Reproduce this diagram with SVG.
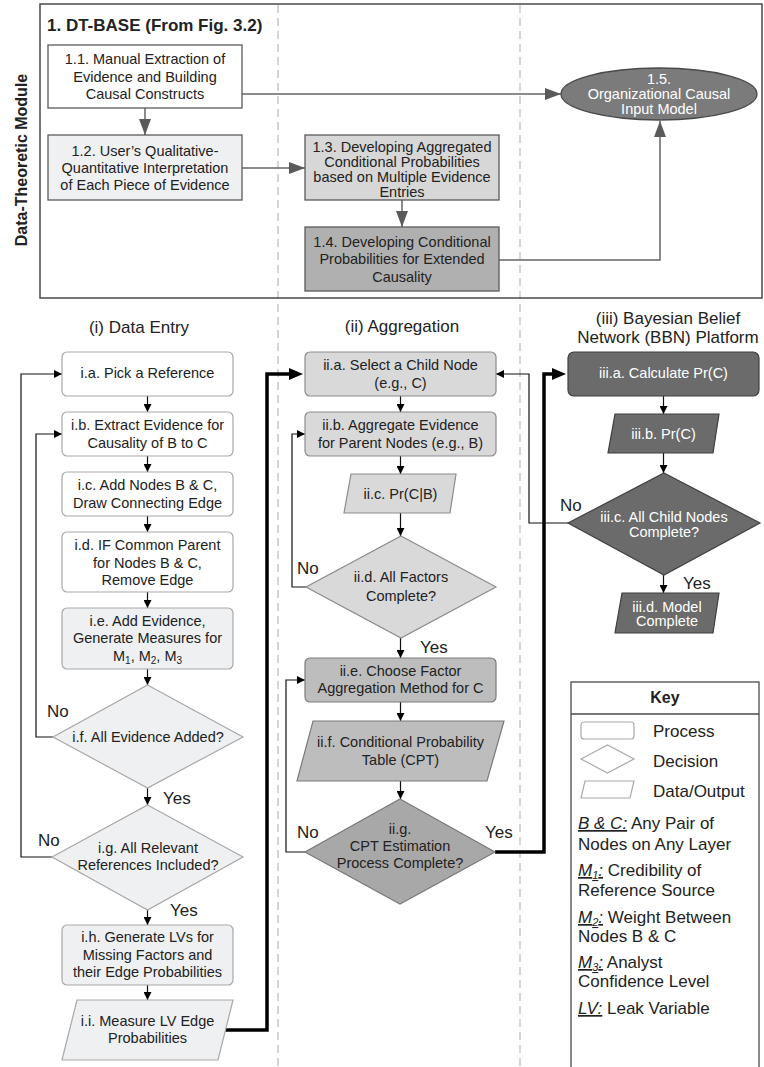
<svg xmlns="http://www.w3.org/2000/svg" width="764" height="1067" viewBox="0 0 764 1067">
  <defs>
    <style>
      text { font-family: "Liberation Sans", Arial, sans-serif; fill: #222; }
      .t { font-size: 14.5px; text-anchor: middle; }
      .w { fill: #ffffff; }
      .lbl { font-size: 17px; }
      .head { font-size: 17px; text-anchor: middle; }
      .key { font-size: 17px; }
      .u { text-decoration: underline; font-style: italic; }
      .top { stroke: #5a5a5a; stroke-width: 1.3; }
      .plain { fill: #ffffff; stroke: #a8a8a8; stroke-width: 1.2; }
      .pale { fill: #eef0f2; stroke: #a8a8a8; stroke-width: 1.2; }
      .g1 { fill: #d9d9d9; stroke: #8c8c8c; stroke-width: 1.2; }
      .g2 { fill: #bdbdbd; stroke: #7a7a7a; stroke-width: 1.2; }
      .g3 { fill: #a8a8a8; stroke: #7a7a7a; stroke-width: 1.2; }
      .dark { fill: #6b6b6b; stroke: #3f3f3f; stroke-width: 1.2; }
      .cg { fill: none; stroke: #666666; stroke-width: 1.5; }
      .cb { fill: none; stroke: #111111; stroke-width: 1.2; }
      .ck { fill: none; stroke: #000000; stroke-width: 3.5; stroke-linejoin: miter; }
      .dash { stroke: #c8c8c8; stroke-width: 1.5; stroke-dasharray: 8 5; }
    </style>
    <marker id="ahG" markerUnits="userSpaceOnUse" markerWidth="16" markerHeight="12" refX="16" refY="6" orient="auto">
      <path d="M0,0 L16,6 L0,12 z" fill="#5a5a5a"/>
    </marker>
    <marker id="ahS" markerUnits="userSpaceOnUse" markerWidth="8" markerHeight="8" refX="8" refY="4" orient="auto">
      <path d="M0,0 L8,4 L0,8 z" fill="#000"/>
    </marker>
    <marker id="ahK" markerUnits="userSpaceOnUse" markerWidth="14" markerHeight="12" refX="8" refY="6" orient="auto">
      <path d="M0,0 L14,6 L0,12 z" fill="#000"/>
    </marker>
  </defs>

  <rect width="764" height="1067" fill="#ffffff"/>

  <!-- lane separators -->
  <line class="dash" x1="278" y1="5" x2="278" y2="1067"/>
  <line class="dash" x1="520" y1="5" x2="520" y2="1067"/>

  <!-- module frame -->
  <rect x="40" y="4" width="722" height="294" fill="none" stroke="#4a4a4a" stroke-width="1.5"/>
  <text x="27" y="160" transform="rotate(-90 27 160)" font-size="16" font-weight="bold" text-anchor="middle">Data-Theoretic Module</text>
  <text x="47" y="31" font-size="17" font-weight="bold">1. DT-BASE (From Fig. 3.2)</text>

  <!-- column headings -->
  <text class="head" x="139" y="333">(i) Data Entry</text>
  <text class="head" x="402" y="332">(ii) Aggregation</text>
  <text class="head" x="668" y="324">(iii) Bayesian Belief</text>
  <text class="head" x="668" y="343">Network (BBN) Platform</text>

  <!-- connectors -->
  <g id="connectors">
    <!-- module -->
    <line class="cg" x1="145" y1="108" x2="145" y2="135" marker-end="url(#ahG)"/>
    <line class="cg" x1="242" y1="94" x2="561" y2="94" marker-end="url(#ahG)"/>
    <line class="cg" x1="242" y1="168" x2="305" y2="168" marker-end="url(#ahG)"/>
    <line class="cg" x1="402" y1="200" x2="402" y2="227" marker-end="url(#ahG)"/>
    <polyline class="cg" points="499,260 660,260 660,121" marker-end="url(#ahG)"/>

    <!-- data entry -->
    <line class="cb" x1="147.5" y1="396" x2="147.5" y2="412" marker-end="url(#ahS)"/>
    <line class="cb" x1="147.5" y1="456" x2="147.5" y2="472" marker-end="url(#ahS)"/>
    <line class="cb" x1="147.5" y1="516" x2="147.5" y2="532" marker-end="url(#ahS)"/>
    <line class="cb" x1="147.5" y1="592" x2="147.5" y2="608" marker-end="url(#ahS)"/>
    <line class="cb" x1="147.5" y1="669" x2="147.5" y2="685" marker-end="url(#ahS)"/>
    <line class="cb" x1="147.5" y1="788" x2="147.5" y2="805" marker-end="url(#ahS)"/>
    <line class="cb" x1="147.5" y1="910" x2="147.5" y2="925" marker-end="url(#ahS)"/>
    <line class="cb" x1="147.5" y1="985" x2="147.5" y2="1000" marker-end="url(#ahS)"/>
    <polyline class="cb" points="53,737 36,737 36,434 62,434" marker-end="url(#ahS)"/>
    <polyline class="cb" points="52,857 21,857 21,374 62,374" marker-end="url(#ahS)"/>
    <polyline class="ck" points="222,1030 267,1030 267,374 297,374" marker-end="url(#ahK)"/>

    <!-- aggregation -->
    <line class="cb" x1="400.5" y1="396" x2="400.5" y2="412" marker-end="url(#ahS)"/>
    <line class="cb" x1="400.5" y1="456" x2="400.5" y2="474" marker-end="url(#ahS)"/>
    <line class="cb" x1="400.5" y1="513" x2="400.5" y2="536" marker-end="url(#ahS)"/>
    <line class="cb" x1="400.5" y1="638" x2="400.5" y2="658" marker-end="url(#ahS)"/>
    <line class="cb" x1="400.5" y1="702" x2="400.5" y2="721" marker-end="url(#ahS)"/>
    <line class="cb" x1="400.5" y1="781" x2="400.5" y2="799" marker-end="url(#ahS)"/>
    <polyline class="cb" points="306,587 292,587 292,434 305,434" marker-end="url(#ahS)"/>
    <polyline class="cb" points="305,852 286,852 286,680 305,680" marker-end="url(#ahS)"/>
    <polyline class="ck" points="495,852 544,852 544,374 560,374" marker-end="url(#ahK)"/>

    <!-- BBN platform -->
    <line class="cb" x1="663.5" y1="396" x2="663.5" y2="414" marker-end="url(#ahS)"/>
    <line class="cb" x1="663.5" y1="453" x2="663.5" y2="473" marker-end="url(#ahS)"/>
    <line class="cb" x1="663.5" y1="575" x2="663.5" y2="593" marker-end="url(#ahS)"/>
    <polyline class="cb" points="569,523 529,523 529,374 496,374" marker-end="url(#ahS)"/>
  </g>

  <!-- module nodes -->
  <g id="n1-1">
    <rect class="top" x="48" y="45" width="194" height="63" fill="#ffffff"/>
    <text class="t" x="145" y="64">1.1. Manual Extraction of</text>
    <text class="t" x="145" y="81.5">Evidence and Building</text>
    <text class="t" x="145" y="99">Causal Constructs</text>
  </g>
  <g id="n1-2">
    <rect class="top" x="48" y="135" width="194" height="65" fill="#eef0f2"/>
    <text class="t" x="145" y="156">1.2. User’s Qualitative-</text>
    <text class="t" x="145" y="173">Quantitative Interpretation</text>
    <text class="t" x="145" y="190">of Each Piece of Evidence</text>
  </g>
  <g id="n1-3">
    <rect class="top" x="305" y="135" width="194" height="65" fill="#d7d7d7"/>
    <text class="t" x="402" y="152">1.3. Developing Aggregated</text>
    <text class="t" x="402" y="167">Conditional Probabilities</text>
    <text class="t" x="402" y="182">based on Multiple Evidence</text>
    <text class="t" x="402" y="197">Entries</text>
  </g>
  <g id="n1-4">
    <rect class="top" x="305" y="227" width="194" height="64" fill="#b0b0b0"/>
    <text class="t" x="402" y="247">1.4. Developing Conditional</text>
    <text class="t" x="402" y="264">Probabilities for Extended</text>
    <text class="t" x="402" y="282">Causality</text>
  </g>
  <g id="n1-5">
    <ellipse cx="659" cy="94" rx="98" ry="26" fill="#7b7b7b" stroke="#4a4a4a" stroke-width="1.3"/>
    <text class="t w" x="659" y="84">1.5.</text>
    <text class="t w" x="659" y="99">Organizational Causal</text>
    <text class="t w" x="659" y="114">Input Model</text>
  </g>

  <!-- (i) data entry -->
  <g id="i-a">
    <rect class="plain" x="62" y="352" width="171" height="44" rx="5"/>
    <text class="t" x="147.5" y="378">i.a. Pick a Reference</text>
  </g>
  <g id="i-b">
    <rect class="plain" x="62" y="412" width="171" height="44" rx="5"/>
    <text class="t" x="147.5" y="430">i.b. Extract Evidence for</text>
    <text class="t" x="147.5" y="448">Causality of B to C</text>
  </g>
  <g id="i-c">
    <rect class="plain" x="62" y="472" width="171" height="44" rx="5"/>
    <text class="t" x="147.5" y="490">i.c. Add Nodes B &amp; C,</text>
    <text class="t" x="147.5" y="508">Draw Connecting Edge</text>
  </g>
  <g id="i-d">
    <rect class="plain" x="62" y="532" width="171" height="60" rx="5"/>
    <text class="t" x="147.5" y="550">i.d. IF Common Parent</text>
    <text class="t" x="147.5" y="568">for Nodes B &amp; C,</text>
    <text class="t" x="147.5" y="585">Remove Edge</text>
  </g>
  <g id="i-e">
    <rect class="pale" x="62" y="608" width="171" height="61" rx="5"/>
    <text class="t" x="147.5" y="626">i.e. Add Evidence,</text>
    <text class="t" x="147.5" y="643">Generate Measures for</text>
    <text class="t" x="147.5" y="661">M<tspan font-size="10" dy="3">1</tspan><tspan dy="-3">, M</tspan><tspan font-size="10" dy="3">2</tspan><tspan dy="-3">, M</tspan><tspan font-size="10" dy="3">3</tspan></text>
  </g>
  <g id="i-f">
    <polygon class="pale" points="147.5,685 243,737 147.5,788 53,737"/>
    <text class="t" x="148" y="742">i.f. All Evidence Added?</text>
  </g>
  <g id="i-g">
    <polygon class="pale" points="147.5,805 243,857 147.5,910 52,857"/>
    <text class="t" x="148" y="853">i.g. All Relevant</text>
    <text class="t" x="148" y="870">References Included?</text>
  </g>
  <g id="i-h">
    <rect class="pale" x="62" y="925" width="171" height="60" rx="5"/>
    <text class="t" x="147.5" y="942">i.h. Generate LVs for</text>
    <text class="t" x="147.5" y="960">Missing Factors and</text>
    <text class="t" x="147.5" y="977">their Edge Probabilities</text>
  </g>
  <g id="i-i">
    <polygon class="pale" points="77,1000 233,1000 218,1060 62,1060"/>
    <text class="t" x="147.5" y="1026">i.i. Measure LV Edge</text>
    <text class="t" x="147.5" y="1043">Probabilities</text>
  </g>

  <!-- (ii) aggregation -->
  <g id="ii-a">
    <rect class="g1" x="305" y="352" width="191" height="44" rx="5"/>
    <text class="t" x="400.5" y="370">ii.a. Select a Child Node</text>
    <text class="t" x="400.5" y="388">(e.g., C)</text>
  </g>
  <g id="ii-b">
    <rect class="g1" x="305" y="412" width="191" height="44" rx="5"/>
    <text class="t" x="400.5" y="430">ii.b. Aggregate Evidence</text>
    <text class="t" x="400.5" y="448">for Parent Nodes (e.g., B)</text>
  </g>
  <g id="ii-c">
    <polygon class="g1" points="351,474 456,474 450,513 344,513"/>
    <text class="t" x="400.5" y="499">ii.c. Pr(C|B)</text>
  </g>
  <g id="ii-d">
    <polygon class="g1" points="401,536 496,587 401,638 306,587" fill="#d4d4d4"/>
    <text class="t" x="401" y="582">ii.d. All Factors</text>
    <text class="t" x="401" y="601">Complete?</text>
  </g>
  <g id="ii-e">
    <rect class="g2" x="305" y="658" width="191" height="44" rx="5"/>
    <text class="t" x="400.5" y="676">ii.e. Choose Factor</text>
    <text class="t" x="400.5" y="693">Aggregation Method for C</text>
  </g>
  <g id="ii-f">
    <polygon class="g2" points="313,721 504,721 487,781 297,781"/>
    <text class="t" x="400.5" y="747">ii.f. Conditional Probability</text>
    <text class="t" x="400.5" y="765">Table (CPT)</text>
  </g>
  <g id="ii-g">
    <polygon class="g3" points="400,799 495,852 400,904 305,852"/>
    <text class="t" x="400" y="834">ii.g.</text>
    <text class="t" x="400" y="851">CPT Estimation</text>
    <text class="t" x="400" y="868">Process Complete?</text>
  </g>

  <!-- (iii) BBN platform -->
  <g id="iii-a">
    <rect class="dark" x="568" y="352" width="191" height="44" rx="6"/>
    <text class="t w" x="663.5" y="378">iii.a. Calculate Pr(C)</text>
  </g>
  <g id="iii-b">
    <polygon class="dark" points="615,414 719,414 713,453 608,453"/>
    <text class="t w" x="663.5" y="439">iii.b. Pr(C)</text>
  </g>
  <g id="iii-c">
    <polygon class="dark" points="664,473 760,523 664,575 568,523"/>
    <text class="t w" x="664" y="522">iii.c. All Child Nodes</text>
    <text class="t w" x="664" y="537">Complete?</text>
  </g>
  <g id="iii-d">
    <polygon class="dark" points="622,593 719,593 713,633 615,633"/>
    <text class="t w" x="667" y="612">iii.d. Model</text>
    <text class="t w" x="667" y="626">Complete</text>
  </g>

  <!-- branch labels -->
  <text class="lbl" x="47" y="717">No</text>
  <text class="lbl" x="163" y="804">Yes</text>
  <text class="lbl" x="38" y="846">No</text>
  <text class="lbl" x="170" y="916">Yes</text>
  <text class="lbl" x="297" y="574">No</text>
  <text class="lbl" x="420" y="653">Yes</text>
  <text class="lbl" x="297" y="838">No</text>
  <text class="lbl" x="485" y="838">Yes</text>
  <text class="lbl" x="560" y="511">No</text>
  <text class="lbl" x="683" y="589">Yes</text>

  <!-- key -->
  <g id="key">
    <rect x="571" y="682" width="188" height="400" fill="#ffffff" stroke="#4a4a4a" stroke-width="1.3"/>
    <line x1="571" y1="714" x2="759" y2="714" stroke="#4a4a4a" stroke-width="1.3"/>
    <text x="665" y="703" font-size="16" font-weight="bold" text-anchor="middle">Key</text>
    <rect x="581" y="722" width="53" height="17" rx="3" fill="#ffffff" stroke="#aaaaaa" stroke-width="1.2"/>
    <polygon points="581,759 607.5,745 634,759 607.5,773" fill="#ffffff" stroke="#aaaaaa" stroke-width="1.2"/>
    <polygon points="585,781 634,781 630,798 581,798" fill="#ffffff" stroke="#aaaaaa" stroke-width="1.2"/>
    <text class="key" x="653" y="737">Process</text>
    <text class="key" x="653" y="767">Decision</text>
    <text class="key" x="653" y="797">Data/Output</text>
    <text class="key" x="578" y="829"><tspan class="u">B &amp; C:</tspan> Any Pair of</text>
    <text class="key" x="578" y="850">Nodes on Any Layer</text>
    <text class="key" x="578" y="876"><tspan class="u">M</tspan><tspan class="u" font-size="11" dy="3">1</tspan><tspan class="u" dy="-3">:</tspan> Credibility of</text>
    <text class="key" x="578" y="896">Reference Source</text>
    <text class="key" x="578" y="923"><tspan class="u">M</tspan><tspan class="u" font-size="11" dy="3">2</tspan><tspan class="u" dy="-3">:</tspan> Weight Between</text>
    <text class="key" x="578" y="942">Nodes B &amp; C</text>
    <text class="key" x="578" y="968"><tspan class="u">M</tspan><tspan class="u" font-size="11" dy="3">3</tspan><tspan class="u" dy="-3">:</tspan> Analyst</text>
    <text class="key" x="578" y="987">Confidence Level</text>
    <text class="key" x="578" y="1014"><tspan class="u">LV:</tspan> Leak Variable</text>
  </g>
</svg>
